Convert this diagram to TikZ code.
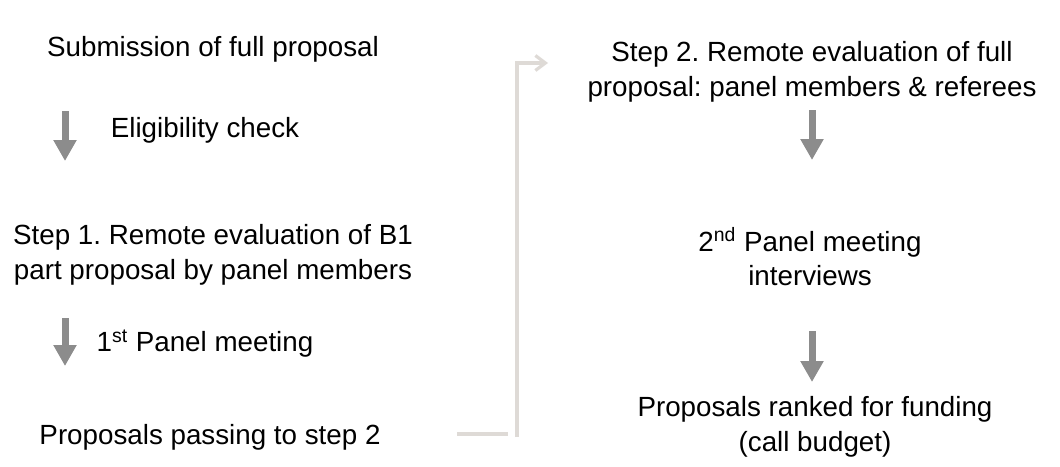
\documentclass[tikz,border=0pt]{standalone}
\usepackage{fontspec}
\setmainfont{Liberation Sans}
\usetikzlibrary{arrows.meta}
\usetikzlibrary{positioning}
\frenchspacing

\definecolor{arrowgray}{RGB}{140,140,140}
\definecolor{linkgray}{RGB}{222,218,214}

\tikzset{
  steptext/.style={align=center, inner sep=0pt, font=\fontsize{15.8}{19.9}\selectfont},
  downarrow/.style={draw=arrowgray, line width=0.14cm, -{Triangle[width=0.44cm, length=0.42cm]}},
  link/.style={draw=linkgray, line width=1.8pt},
}

\begin{document}
\begin{tikzpicture}[x=0.02cm, y=-0.02cm]
        \useasboundingbox (0, 0) rectangle (1060, 466);

        % left column
        \node[steptext] (submit) at (213, 49) {Submission of full proposal};
        \node[steptext] (elig) at (205, 130) {Eligibility check};
        \node[steptext] (step1) at (213, 255) {Step 1. Remote evaluation of B1\\part proposal by panel members};
        \node[steptext] (panel1) at (205, 344) {1\textsuperscript{st} Panel meeting};
        \node[steptext] (passing) at (210, 437) {Proposals passing to step 2};

        % right column
        \node[steptext] (step2) at (812, 72) {Step 2. Remote evaluation of full\\proposal: panel members \& referees};
        \node[steptext] (panel2) at (810, 257) {2\textsuperscript{nd} Panel meeting\\interviews};
        \node[steptext] (ranked) at (815, 427) {Proposals ranked for funding\\(call budget)};

        % grey arrows
        \coordinate (a1) at (65, 111);
        \coordinate (b1) at (65, 161);
        \coordinate (a2) at (65, 318);
        \coordinate (b2) at (65, 366);
        \coordinate (a3) at (812, 110);
        \coordinate (b3) at (812, 160);
        \coordinate (a4) at (812, 331);
        \coordinate (b4) at (812, 382);
        \draw[downarrow] (a1) -- (b1);
        \draw[downarrow] (a2) -- (b2);
        \draw[downarrow] (a3) -- (b3);
        \draw[downarrow] (a4) -- (b4);

        % link to step 2
        \coordinate (l0) at (457, 434);
        \coordinate (l1) at (508, 434);
        \coordinate (l2) at (517, 437);
        \coordinate (l3) at (548, 63);
        \draw[link] (l0) -- (l1);
        \draw[link, -{Straight Barb[length=0.2cm, width=0.3cm]}] (l2) |- (l3);
    \end{tikzpicture}
\end{document}
